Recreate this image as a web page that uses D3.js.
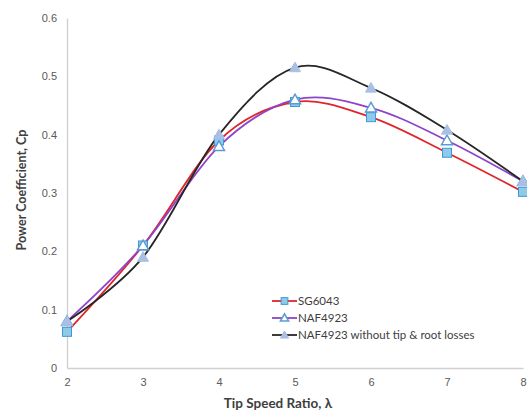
<!DOCTYPE html>
<html><head><meta charset="utf-8">
<script src="https://cdn.jsdelivr.net/npm/d3@7"></script>
<style>body{margin:0;background:#fff;} svg{display:block;font-family:Lato,"Open Sans",sans-serif;}</style>
</head><body><svg id="c" width="527" height="412"></svg>
<script>
const tsr = [2, 3, 4, 5, 6, 7, 8];
const sg6043 = [0.062, 0.21, 0.39, 0.456, 0.43, 0.369, 0.302];
const naf4923 = [0.08, 0.21, 0.38, 0.46, 0.446, 0.39, 0.32];
const nafNoLoss = [0.08, 0.19, 0.40, 0.515, 0.48, 0.408, 0.32];
const yTicks = [0, 0.1, 0.2, 0.3, 0.4, 0.5, 0.6];
const seriesNames = ["SG6043", "NAF4923", "NAF4923 without tip & root losses"];

const svg = d3.select("#c");
const x = d3.scaleLinear().domain([2, 8]).range([67, 523]);
const y = d3.scaleLinear().domain([0, 0.6]).range([368, 18]);

const xa = svg.append("g").attr("transform", "translate(0,368)")
  .call(d3.axisBottom(x).tickValues(tsr).tickSize(0).tickPadding(10).tickFormat(d3.format("d")));
const ya = svg.append("g").attr("transform", "translate(67,0)")
  .call(d3.axisLeft(y).tickValues(yTicks).tickSize(0).tickPadding(10).tickFormat(d => d === 0 ? "0" : d3.format(".1f")(d)));
[xa, ya].forEach(a => {
  a.select(".domain").attr("stroke", "#d0d0d0").attr("stroke-width", 1.3);
  a.selectAll("text").attr("fill", "#595959").style("font-size", "11px");
});

svg.append("text").attr("x", 278).attr("y", 408).attr("text-anchor", "middle")
  .style("font-size", "13.5px").style("font-weight", "bold").attr("fill", "#404040").text("Tip Speed Ratio, λ");
svg.append("text").attr("transform", "translate(26,190) rotate(-90)").attr("text-anchor", "middle")
  .style("font-size", "12.5px").style("font-weight", "bold").attr("fill", "#404040").text("Power Coefficient, Cp");

const line = d3.line().x(d => x(d[0])).y(d => y(d[1])).curve(d3.curveCatmullRom.alpha(0));

const series = [
  {vals: sg6043, color: "#e0262a", marker: "square"},
  {vals: naf4923, color: "#8e44c9", marker: "tri-open"},
  {vals: nafNoLoss, color: "#262626", marker: "tri"}
];

function drawMarker(g, type, cx, cy, k) {
  k = k || 1;
  if (type === "square") {
    const h = 4.5 * k;
    g.append("rect").attr("x", cx - h).attr("y", cy - h).attr("width", 2 * h).attr("height", 2 * h)
      .attr("fill", "#8fcbe8").attr("stroke", "#3d9ad6").attr("stroke-width", 1);
  } else {
    const s = 5.5 * k;
    const p = [[cx, cy - s], [cx + s, cy + s * 0.75], [cx - s, cy + s * 0.75]];
    g.append("path").attr("d", "M" + p.map(q => q.join(",")).join("L") + "Z")
      .attr("fill", type === "tri" ? "#a9bfe3" : "#ffffff")
      .attr("stroke", type === "tri" ? "#a9bfe3" : "#5b9bd5").attr("stroke-width", type === "tri" ? 1 : 1.5);
  }
}

series.forEach(s => {
  svg.append("path").datum(tsr.map((t, i) => [t, s.vals[i]])).attr("d", line)
    .attr("fill", "none").attr("stroke", s.color).attr("stroke-width", 1.8);
});
series.forEach(s => {
  const g = svg.append("g");
  tsr.forEach((t, i) => drawMarker(g, s.marker, x(t), y(s.vals[i])));
});

const lg = svg.append("g");
series.forEach((s, i) => {
  const yy = 301 + i * 17;
  lg.append("line").attr("x1", 272).attr("x2", 297).attr("y1", yy).attr("y2", yy)
    .attr("stroke", s.color).attr("stroke-width", 1.8);
  drawMarker(lg, s.marker, 284.5, yy, 0.75);
  lg.append("text").attr("x", 298).attr("y", yy + 4).style("font-size", "11.5px").attr("fill", "#404040").text(seriesNames[i]);
});
</script></body></html>
